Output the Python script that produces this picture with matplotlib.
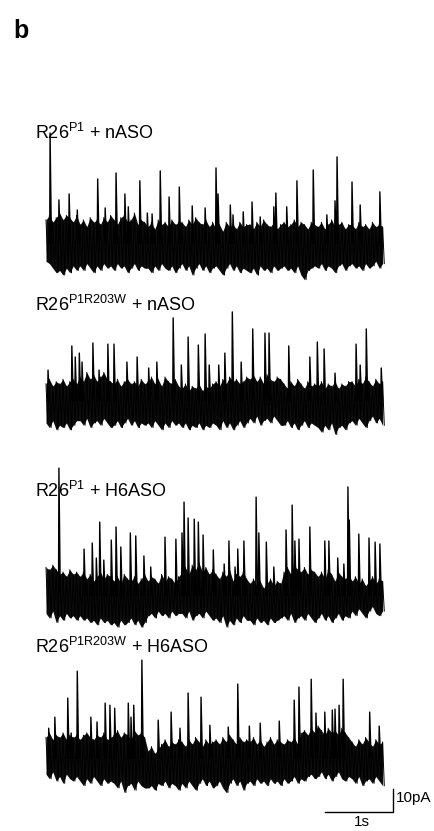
import matplotlib
matplotlib.use("Agg")
import matplotlib.pyplot as plt
import numpy as np

plt.rcParams['font.family'] = ['Liberation Sans', 'DejaVu Sans']
plt.rcParams['mathtext.fontset'] = 'custom'
plt.rcParams['mathtext.rm'] = 'Liberation Sans'

# ---------------- data (seconds, pA relative to trace baseline) ----------------
labels = [r'R26$^{\mathrm{P1}}$ + nASO',
          r'R26$^{\mathrm{P1R203W}}$ + nASO',
          r'R26$^{\mathrm{P1}}$ + H6ASO',
          r'R26$^{\mathrm{P1R203W}}$ + H6ASO']

sample_dt = 0.05   # noise envelope sampled every 50 ms, 5 s sweep

# trace 1
t1_up = [10, 12, 9, 11, 13, 10, 12, 11, 9, 12,
         8, 10, 7, 11, 9, 10, 8, 11, 9, 12,
         10, 8, 11, 12, 9, 10, 13, 8, 10, 9,
         7, 9, 6, 10, 8, 9, 7, 10, 8, 9,
         9, 7, 10, 8, 11, 9, 8, 10, 7, 9,
         6, 8, 5, 9, 7, 8, 6, 9, 7, 8,
         8, 6, 9, 7, 10, 8, 7, 9, 6, 8,
         9, 7, 8, 10, 7, 9, 8, 6, 9, 8,
         7, 9, 6, 8, 10, 7, 8, 9, 6, 8,
         8, 6, 9, 7, 8, 6, 9, 7, 8, 7]
t1_lo = [-8, -9, -11, -13, -12, -14, -11, -13, -10, -12,
         -10, -12, -9, -11, -13, -10, -12, -9, -11, -10,
         -12, -9, -11, -10, -13, -11, -9, -12, -10, -11,
         -11, -13, -10, -12, -9, -11, -12, -10, -13, -11,
         -9, -12, -10, -14, -11, -9, -12, -10, -13, -11,
         -10, -12, -14, -11, -9, -12, -10, -13, -11, -12,
         -13, -11, -14, -10, -12, -11, -13, -10, -12, -11,
         -10, -12, -11, -13, -10, -14, -16, -12, -11, -10,
         -11, -9, -12, -10, -11, -13, -10, -9, -12, -10,
         -9, -11, -10, -12, -9, -11, -10, -8, -11, -9]
t1_spk_t = [0.06, 0.19, 0.34, 0.46, 0.76, 0.87, 1.03, 1.16, 1.21, 1.38,
            1.49, 1.56, 1.68, 1.81, 1.96, 2.15, 2.34, 2.50, 2.53, 2.71,
            2.75, 2.90, 3.03, 3.15, 3.35, 3.38, 3.54, 3.69, 3.93, 4.13,
            4.25, 4.28, 4.50, 4.62, 4.91]
t1_spk_a = [47.8, 18.7, 21.3, 14.3, 27.8, 15.2, 30.4, 21.3, 15.7, 27.0,
            13.0, 12.6, 31.3, 20.0, 24.3, 16.1, 15.2, 32.6, 21.3, 16.5,
            12.2, 13.5, 17.8, 11.3, 15.7, 21.7, 15.7, 27.0, 31.7, 12.2,
            18.3, 37.4, 26.5, 16.5, 22.2]

# trace 2
t2_up = [7, 9, 6, 8, 7, 9, 6, 8, 9, 7,
         10, 8, 12, 9, 11, 8, 10, 12, 9, 8,
         7, 9, 6, 8, 9, 7, 8, 6, 9, 7,
         8, 10, 7, 9, 6, 10, 8, 7, 9, 6,
         5, 7, 4, 6, 5, 7, 4, 6, 5, 7,
         8, 6, 9, 7, 10, 8, 9, 7, 8, 10,
         9, 11, 8, 10, 7, 11, 9, 8, 10, 9,
         7, 5, 8, 6, 9, 7, 5, 8, 6, 7,
         6, 8, 5, 7, 6, 8, 5, 7, 6, 8,
         8, 6, 9, 7, 10, 8, 6, 9, 7, 8]
t2_lo = [-10, -12, -9, -13, -11, -12, -10, -13, -11, -9,
         -9, -11, -8, -12, -10, -9, -11, -8, -10, -12,
         -11, -9, -12, -10, -8, -11, -9, -12, -10, -11,
         -10, -12, -9, -11, -13, -10, -12, -9, -11, -10,
         -12, -10, -13, -11, -12, -10, -13, -11, -12, -10,
         -11, -13, -9, -12, -10, -13, -11, -9, -12, -10,
         -8, -10, -7, -11, -9, -8, -10, -7, -9, -11,
         -11, -9, -12, -10, -13, -11, -9, -12, -10, -11,
         -12, -14, -11, -13, -10, -15, -12, -11, -13, -10,
         -9, -11, -8, -10, -12, -9, -7, -10, -8, -11]
t2_spk_t = [0.03, 0.38, 0.43, 0.49, 0.53, 0.69, 0.78, 0.91, 1.00, 1.19,
            1.34, 1.51, 1.63, 1.87, 1.99, 2.09, 2.24, 2.34, 2.40, 2.54,
            2.63, 2.74, 2.87, 3.04, 3.22, 3.28, 3.57, 3.88, 3.99, 4.09,
            4.25, 4.56, 4.62, 4.71, 4.93]
t2_spk_a = [13.0, 23.5, 18.7, 20.4, 16.5, 24.8, 13.0, 24.3, 24.3, 16.5,
            18.7, 13.9, 16.5, 35.7, 15.2, 27.4, 23.9, 28.7, 15.2, 15.2,
            20.4, 38.3, 16.5, 30.9, 29.1, 29.1, 23.5, 18.7, 25.2, 22.2,
            11.7, 24.3, 15.2, 30.9, 13.9]

# trace 3
t3_up = [12, 11, 13, 11, 9, 10, 8, 11, 9, 10,
         8, 10, 7, 9, 6, 8, 10, 7, 9, 8,
         6, 8, 5, 9, 7, 6, 8, 5, 7, 9,
         6, 8, 7, 5, 9, 6, 8, 7, 5, 8,
         10, 12, 9, 13, 11, 14, 10, 12, 9, 11,
         9, 7, 10, 8, 11, 6, 9, 8, 10, 7,
         5, 7, 4, 6, 3, 5, 7, 4, 6, 5,
         10, 12, 9, 13, 11, 10, 12, 9, 11, 10,
         8, 10, 7, 11, 9, 6, 10, 8, 7, 9,
         6, 8, 5, 7, 4, 6, 8, 5, 7, 6]
t3_lo = [-8, -10, -7, -12, -9, -11, -8, -10, -9, -11,
         -9, -11, -10, -12, -11, -13, -10, -12, -11, -13,
         -12, -14, -11, -13, -12, -10, -13, -11, -14, -12,
         -9, -8, -10, -7, -9, -8, -10, -7, -9, -8,
         -8, -10, -7, -11, -9, -8, -10, -7, -9, -11,
         -10, -12, -9, -14, -11, -13, -10, -12, -9, -11,
         -11, -13, -10, -12, -11, -13, -10, -12, -11, -10,
         -9, -11, -8, -12, -10, -9, -11, -8, -10, -12,
         -10, -8, -11, -9, -12, -10, -8, -11, -9, -10,
         -7, -9, -6, -8, -10, -7, -5, -8, -9, -7]
t3_spk_t = [0.19, 0.56, 0.68, 0.74, 0.79, 0.85, 0.96, 1.03, 1.10, 1.24,
            1.32, 1.44, 1.54, 1.75, 1.91, 2.00, 2.03, 2.09, 2.18, 2.24,
            2.31, 2.46, 2.62, 2.69, 2.78, 2.82, 2.91, 3.09, 3.13, 3.24,
            3.35, 3.53, 3.62, 3.66, 3.72, 3.88, 4.10, 4.16, 4.29, 4.38,
            4.44, 4.46, 4.60, 4.75, 4.84, 4.91]
t3_spk_a = [55.2, 20.0, 22.6, 16.1, 31.7, 15.2, 23.9, 29.6, 20.9, 27.0,
            25.7, 17.0, 12.2, 25.2, 24.3, 27.0, 40.4, 33.5, 33.0, 31.7,
            26.1, 19.6, 13.5, 23.5, 12.2, 20.0, 23.5, 42.6, 27.0, 23.0,
            12.2, 28.3, 39.1, 23.5, 24.3, 29.6, 23.5, 23.5, 16.1, 13.5,
            47.0, 32.6, 26.5, 24.8, 23.0, 22.2]

# trace 4
t4_up = [9, 11, 8, 10, 9, 11, 8, 10, 9, 10,
         8, 10, 11, 9, 8, 10, 9, 11, 8, 9,
         10, 12, 9, 11, 10, 8, 12, 10, 11, 9,
         3, 5, 2, 4, 6, 8, 5, 7, 6, 8,
         7, 5, 8, 6, 9, 7, 5, 8, 6, 7,
         8, 6, 9, 7, 10, 8, 6, 9, 7, 8,
         7, 9, 6, 8, 5, 7, 9, 6, 8, 7,
         6, 8, 7, 9, 6, 11, 12, 10, 13, 11,
         14, 12, 10, 13, 11, 12, 10, 13, 11, 9,
         7, 5, 8, 6, 9, 7, 5, 8, 6, 7]
t4_lo = [-7, -9, -6, -10, -8, -11, -7, -9, -10, -8,
         -10, -12, -9, -11, -8, -10, -12, -9, -11, -10,
         -11, -13, -10, -15, -12, -11, -14, -10, -12, -13,
         -13, -12, -14, -11, -12, -10, -13, -11, -12, -14,
         -11, -13, -10, -12, -14, -11, -9, -12, -10, -13,
         -12, -10, -13, -15, -11, -9, -12, -10, -14, -11,
         -10, -12, -9, -11, -10, -12, -9, -11, -10, -12,
         -9, -11, -10, -8, -11, -9, -10, -8, -7, -9,
         -8, -6, -9, -7, -10, -8, -6, -9, -10, -8,
         -9, -11, -8, -12, -10, -9, -11, -8, -10, -12]
t4_spk_t = [0.04, 0.13, 0.32, 0.37, 0.46, 0.66, 0.75, 0.87, 0.94, 1.01,
            1.21, 1.25, 1.29, 1.41, 1.65, 1.84, 1.97, 2.09, 2.28, 2.41,
            2.68, 2.82, 2.99, 3.15, 3.43, 3.65, 3.72, 3.90, 3.97, 4.10,
            4.21, 4.25, 4.31, 4.37, 4.76, 4.90]
t4_spk_a = [13.0, 17.8, 26.1, 10.9, 37.8, 17.8, 15.7, 23.9, 23.0, 21.7,
            23.9, 17.8, 23.0, 42.6, 16.5, 20.0, 13.0, 28.3, 26.5, 14.3,
            13.5, 32.2, 13.9, 15.2, 16.1, 25.2, 30.9, 34.3, 19.6, 20.0,
            20.9, 21.3, 23.0, 34.3, 20.0, 13.9]

traces = [(t1_up, t1_lo, t1_spk_t, t1_spk_a),
          (t2_up, t2_lo, t2_spk_t, t2_spk_a),
          (t3_up, t3_lo, t3_spk_t, t3_spk_a),
          (t4_up, t4_lo, t4_spk_t, t4_spk_a)]

# ---------------- layout ----------------
W, H = 434, 831
px_per_s = 68.0
px_per_pA = 2.3
x0_px = 46                          # where t = 0 sits
offsets = [255.7, 187.4, 102.6, 31.7]   # vertical position of each trace (pA)
label_pos = [(35, 139), (35, 311), (35, 497), (35, 653)]   # pixel, baseline

fig = plt.figure(figsize=(W / 100, H / 100), dpi=100)
ax = fig.add_axes([0, 0, 1, 1])
ax.set_xlim(-x0_px / px_per_s, (W - x0_px) / px_per_s)
ax.set_ylim(0, H / px_per_pA)
ax.axis('off')

for (up, lo, st, sa), off in zip(traces, offsets):
    n = len(up)
    tg = np.arange(n) * sample_dt
    up = np.array(up) + off
    lo = np.array(lo) + off

    # solid body of the noise band
    ax.fill_between(tg, lo, up, color='black', lw=0, alpha=0.95)

    # ragged edge: trace jumps between the two envelopes
    tt = np.empty(2 * n)
    yy = np.empty(2 * n)
    tt[0::2] = tg
    tt[1::2] = tg + sample_dt / 2
    yy[0::2] = up
    yy[1::2] = lo
    ax.plot(tt, yy, color='black', lw=0.7)

    # spikes: fast rise, short decay
    sx, sy = [], []
    for t, a in zip(st, sa):
        sx += [t - 0.006, t, t + 0.02, np.nan]
        sy += [off, off + a, off, np.nan]
    ax.plot(sx, sy, color='black', lw=1.0)

for lab, (lx, ly) in zip(labels, label_pos):
    fig.text(lx / W, 1 - ly / H, lab, fontsize=13, ha='left', va='baseline')

fig.text(13 / W, 1 - 38 / H, 'b', fontsize=18, fontweight='bold',
         ha='left', va='baseline')

# scale bar: 1 s, 10 pA
sb_t, sb_y = 5.10, 8.26
ax.plot([sb_t - 1, sb_t, sb_t], [sb_y, sb_y, sb_y + 10], color='black', lw=1.0)
fig.text(396 / W, 1 - 798 / H, '10pA', fontsize=11, ha='left', va='center')
fig.text(362 / W, 1 - 822 / H, '1s', fontsize=11, ha='center', va='center')

fig.savefig('out.png', dpi=100, facecolor='white')
